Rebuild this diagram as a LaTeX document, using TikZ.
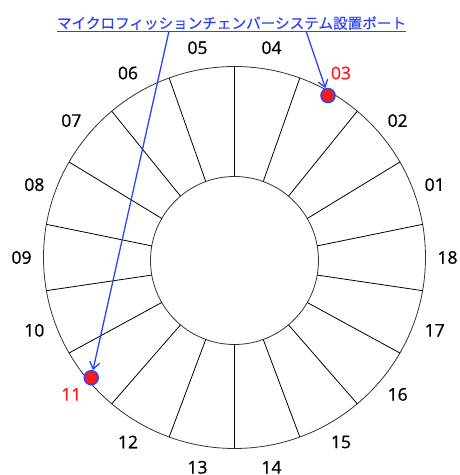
\documentclass[tikz,border=0pt]{standalone}
\usepackage{fontspec}
\setmainfont{Open Sans}[FakeBold=0.8]
\newfontfamily\jpfont{Noto Sans CJK JP}[FakeBold=0.6]
\usetikzlibrary{arrows.meta,calc}
\definecolor{portblue}{HTML}{2B45F5}
\definecolor{portred}{HTML}{FF1A1A}
\begin{document}
\begin{tikzpicture}[x=1pt,y=1pt,
  ring/.style={draw=black!80, line width=0.8pt},
  spoke/.style={draw=black, line width=0.8pt},
  lbl/.style={font=\fontsize{17.5}{17.5}\selectfont, inner sep=0pt},
  port/.style={circle, fill=portred, draw=portblue, line width=1.5pt, minimum size=14pt, inner sep=0pt},
  callout/.style={draw=portblue, line width=1.3pt, -{Straight Barb[length=7pt,width=10pt]}}]
\useasboundingbox (0,0) rectangle (460,475);
\coordinate (c) at (234.5,217.5);
\coordinate (ci) at (234.5,214.5);
\draw[ring] (c) circle (191);
\draw[ring] (ci) circle (84);
\foreach \a in {10,30,...,350}
  \draw[spoke] ($(ci)+(\a:84)$) -- ($(c)+(\a:191)$);
\foreach \t/\col [count=\k] in {01/black,02/black,03/portred,04/black,05/black,06/black,07/black,08/black,09/black,10/black,11/portred,12/black,13/black,14/black,15/black,16/black,17/black,18/black}
  \node[lbl, text=\col] (l\t) at ($(c)+(\k*20:213)$) {\t};
\node[font=\jpfont\fontsize{14.6}{14.6}\selectfont, text=portblue, inner sep=0pt] (title) at (231.5,452) {マイクロフィッションチェンバーシステム設置ポート};
\coordinate (u1) at (title.west |- 0,444);
\coordinate (u2) at (title.east |- 0,444);
\draw[portblue, line width=0.9pt] (u1) -- (u2);
\coordinate (s1) at (306,444);
\coordinate (s2) at (169,444);
\node[port] (p03) at ($(c)+(60:187)$) {};
\node[port] (p11) at ($(c)+(220:187)$) {};
\draw[callout] (s1) -- (p03);
\draw[callout] (s2) -- (p11);
\end{tikzpicture}
\end{document}
